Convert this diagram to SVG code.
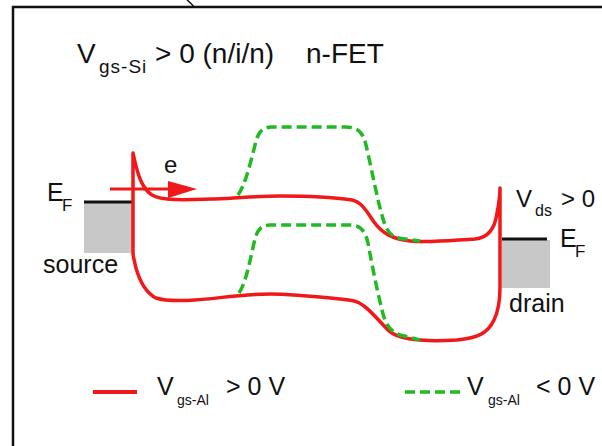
<svg xmlns="http://www.w3.org/2000/svg" width="602" height="446" viewBox="0 0 602 446">
<style>
text { font-family: "Liberation Sans", Arial, sans-serif; fill: #111; }
.band { fill: none; stroke: #f01818; stroke-width: 3.5; stroke-linejoin: round; stroke-linecap: round; }
.dash { fill: none; stroke: #22b922; stroke-width: 3.5; stroke-dasharray: 10 5; }
.metal { fill: #c8c8c8; }
.ef { stroke: #111; stroke-width: 3; }
</style>
<rect width="602" height="446" fill="#fff"/>
<g id="frame" fill="none" stroke="#111">
  <path d="M13,446 L13,7 L602,7" stroke-width="2.5"/>
  <path d="M187,0 Q191,3 194,7" stroke-width="1.5"/>
</g>
<g id="title">
  <text x="77" y="63" font-size="28">V<tspan font-size="19" letter-spacing="1" x="99" y="73">gs-Si</tspan><tspan x="155" y="63">&gt; 0 (n/i/n)</tspan><tspan x="306" y="63">n-FET</tspan></text>
</g>
<g id="source">
  <rect class="metal" x="84" y="203" width="48" height="50"/>
  <line class="ef" x1="84" y1="202" x2="132" y2="202"/>
  <text x="47" y="201" font-size="25">E<tspan font-size="17" x="62" y="211">F</tspan></text>
  <text x="43" y="273" font-size="25">source</text>
</g>
<g id="drain">
  <rect class="metal" x="502" y="240" width="48" height="48"/>
  <line class="ef" x1="502" y1="239" x2="547" y2="239"/>
  <text x="560" y="247" font-size="25">E<tspan font-size="17" x="575" y="257">F</tspan></text>
  <text x="509" y="312" font-size="25">drain</text>
  <text x="516" y="207" font-size="24">V<tspan font-size="16" x="535" y="216">ds</tspan><tspan x="561" y="207">&gt; 0</tspan></text>
</g>
<g id="bands">
  <path class="band" d="M133,153 C137,172 141,188 152,195 C162,201 185,200 215,199 C240,198 258,196 280,196 C310,196 338,198 352,200 C362,202 367,212 374,222 C382,233 392,239 410,241 C430,243 455,240 475,239 C488,238 495,228 497,213 C499,203 500,195 500,188 L500,287 C500,302 498,312 494,320 C488,333 478,338 457,340 C440,341 430,341 420,340 C405,339 394,336 388,330 C380,322 372,312 364,306 C358,301 352,300 340,299 C310,296 290,294 270,294 C240,294 215,299 195,300 C180,301 165,301 156,298 C146,293 140,282 136,268 C134,260 133,256 133,253 Z"/>
  <path class="dash" d="M238,195 C245,185 250,165 255,145 C258,132 262,127 272,127 L345,127 C358,127 363,132 366,145 C372,170 378,205 385,225 C389,235 394,238 405,239 L420,241"/>
  <path class="dash" d="M239,293 C246,283 250,260 254,243 C257,230 260,226 270,225 L350,225 C360,225 365,230 368,243 C372,265 377,290 382,310 C385,323 389,331 400,335 L420,340"/>
</g>
<g id="electron">
  <line x1="110" y1="189" x2="172" y2="189" stroke="#f01818" stroke-width="3"/>
  <polygon points="168,181 197,189 168,198" fill="#f01818"/>
  <text x="164" y="173" font-size="24">e</text>
</g>
<g id="legend">
  <line x1="93" y1="392" x2="137" y2="392" stroke="#f01818" stroke-width="4"/>
  <text x="157" y="395" font-size="25">V<tspan font-size="14" x="177" y="405">gs-Al</tspan><tspan x="226" y="395">&gt; 0 V</tspan></text>
  <line class="dash" x1="405" y1="392" x2="462" y2="392" stroke-dasharray="11 4" stroke-width="4"/>
  <text x="467" y="395" font-size="25">V<tspan font-size="14" x="488" y="405">gs-Al</tspan><tspan x="536" y="395">&lt; 0 V</tspan></text>
</g>
</svg>
